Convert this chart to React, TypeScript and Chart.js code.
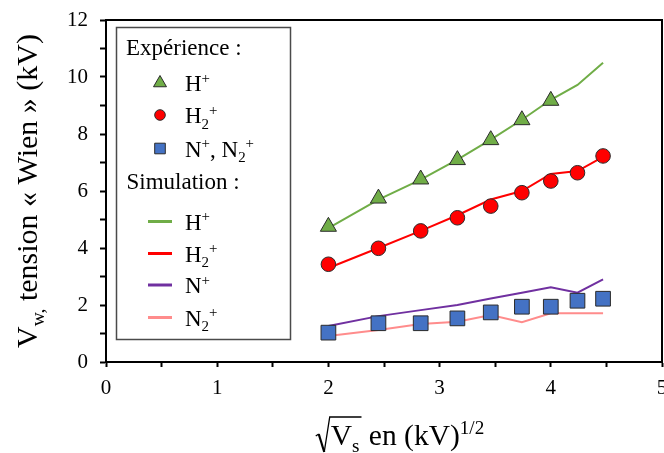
import React, { useEffect, useRef } from 'react';
import { Chart, registerables } from 'chart.js';

Chart.register(...registerables);

// ---- data ----
const xValues = [2, 2.45, 2.83, 3.16, 3.46, 3.74, 4, 4.24, 4.47];
const expHplus = [4.75, 5.74, 6.41, 7.09, 7.79, 8.49, 9.17];
const expH2plus = [3.43, 3.99, 4.6, 5.06, 5.47, 5.94, 6.35, 6.64, 7.23];
const expNplus = [1.03, 1.36, 1.36, 1.53, 1.74, 1.94, 1.94, 2.15, 2.22];
const simHplus = [4.7, 5.7, 6.4, 7.1, 7.8, 8.5, 9.2, 9.72, 10.5];
const simH2plus = [3.3, 4.0, 4.6, 5.15, 5.7, 6.0, 6.6, 6.7, 7.2];
const simNplus = [1.26, 1.61, 1.82, 2.0, 2.23, 2.43, 2.62, 2.43, 2.9];
const simN2plus = [0.91, 1.12, 1.33, 1.41, 1.65, 1.4, 1.71, 1.71, 1.71];

const xMin = 0;
const xMax = 5;
const yMin = 0;
const yMax = 12;
const xTickLabels = [0, 1, 2, 3, 4, 5];

const legendHeaderExp = 'Expérience :';
const legendHeaderSim = 'Simulation :';

type Seg = { t: string; m?: 'sub' | 'sup' };
const labelH: Seg[] = [{ t: 'H' }, { t: '+', m: 'sup' }];
const labelH2: Seg[] = [{ t: 'H' }, { t: '2', m: 'sub' }, { t: '+', m: 'sup' }];
const labelNN2: Seg[] = [{ t: 'N' }, { t: '+', m: 'sup' }, { t: ', N' }, { t: '2', m: 'sub' }, { t: '+', m: 'sup' }];
const labelN: Seg[] = [{ t: 'N' }, { t: '+', m: 'sup' }];
const labelN2: Seg[] = [{ t: 'N' }, { t: '2', m: 'sub' }, { t: '+', m: 'sup' }];

const yTitle: Seg[] = [{ t: 'V' }, { t: 'w,', m: 'sub' }, { t: ' tension « Wien » (kV)' }];
const xTitleAfterRoot: Seg[] = [{ t: ' en (kV)' }, { t: '1/2', m: 'sup' }];
const xTitleRoot: Seg[] = [{ t: 'V' }, { t: 's', m: 'sub' }];

// ---- styles ----
const SERIF = '"Liberation Serif", "Times New Roman", serif';
const GREEN = '#70AD47';
const RED = '#FF0000';
const BLUE = '#4472C4';
const PURPLE = '#7030A0';
const PINK = '#FF8C8C';
const EDGE = '#2B2B2B';

function segWidth(ctx: CanvasRenderingContext2D, segs: Seg[], size: number) {
  let w = 0;
  for (const s of segs) {
    const fs = s.m ? size * 0.65 : size;
    ctx.font = `${fs}px ${SERIF}`;
    w += ctx.measureText(s.t).width;
  }
  return w;
}

function drawRich(ctx: CanvasRenderingContext2D, segs: Seg[], x: number, y: number, size: number) {
  let cx = x;
  ctx.textBaseline = 'alphabetic';
  ctx.textAlign = 'left';
  for (const s of segs) {
    const fs = s.m ? size * 0.65 : size;
    ctx.font = `${fs}px ${SERIF}`;
    const dy = s.m === 'sub' ? size * 0.24 : s.m === 'sup' ? -size * 0.36 : 0;
    ctx.fillText(s.t, cx, y + dy);
    cx += ctx.measureText(s.t).width;
  }
  return cx - x;
}

function marker(ctx: CanvasRenderingContext2D, shape: string, x: number, y: number, r: number, fill: string) {
  ctx.save();
  ctx.beginPath();
  if (shape === 'triangle') {
    const w = r * Math.sin((2 * Math.PI) / 3);
    ctx.moveTo(x, y - r);
    ctx.lineTo(x + w, y + r / 2);
    ctx.lineTo(x - w, y + r / 2);
    ctx.closePath();
  } else if (shape === 'circle') {
    ctx.arc(x, y, r, 0, Math.PI * 2);
  } else {
    ctx.rect(x - r, y - r, 2 * r, 2 * r);
  }
  ctx.fillStyle = fill;
  ctx.fill();
  ctx.strokeStyle = EDGE;
  ctx.lineWidth = 1;
  ctx.stroke();
  ctx.restore();
}

const decorPlugin = {
  id: 'decor',
  afterDraw(chart: any) {
    const ctx: CanvasRenderingContext2D = chart.ctx;
    const a = chart.chartArea;
    ctx.save();
    // frame top & right
    ctx.strokeStyle = '#000';
    ctx.lineWidth = 2;
    ctx.beginPath();
    ctx.moveTo(a.left, a.top);
    ctx.lineTo(a.right, a.top);
    ctx.lineTo(a.right, a.bottom);
    ctx.stroke();

    // x tick labels (drawn from the x scale)
    const xs = chart.scales.x;
    ctx.fillStyle = '#000';
    ctx.font = `21px ${SERIF}`;
    ctx.textAlign = 'center';
    ctx.textBaseline = 'alphabetic';
    for (const v of xTickLabels) {
      ctx.fillText(String(v), xs.getPixelForValue(v), 394);
    }

    // legend box
    ctx.strokeStyle = '#4A4A4A';
    ctx.lineWidth = 1.5;
    ctx.fillStyle = '#fff';
    ctx.fillRect(116, 27, 175, 313);
    ctx.strokeRect(116.5, 27.5, 174, 312);

    ctx.fillStyle = '#000';
    const LS = 23;
    drawRich(ctx, [{ t: legendHeaderExp }], 126, 55, LS);
    drawRich(ctx, [{ t: legendHeaderSim }], 126.5, 189, LS);

    const expItems: [string, string, Seg[], number][] = [
      ['triangle', GREEN, labelH, 83],
      ['circle', RED, labelH2, 115],
      ['rect', BLUE, labelNN2, 148.5],
    ];
    for (const [shape, col, segs, y] of expItems) {
      const r = shape === 'triangle' ? 7.5 : 5.3;
      marker(ctx, shape, 160, y, r, col);
      ctx.fillStyle = '#000';
      drawRich(ctx, segs, 185, y + 8, LS);
    }
    const simItems: [string, Seg[], number][] = [
      [GREEN, labelH, 221.5],
      [RED, labelH2, 253.5],
      [PURPLE, labelN, 285],
      [PINK, labelN2, 317.5],
    ];
    for (const [col, segs, y] of simItems) {
      ctx.strokeStyle = col;
      ctx.lineWidth = 3;
      ctx.beginPath();
      ctx.moveTo(148, y);
      ctx.lineTo(172, y);
      ctx.stroke();
      ctx.fillStyle = '#000';
      drawRich(ctx, segs, 185, y + 8, LS);
    }

    // y title
    const TY = 30;
    ctx.save();
    ctx.translate(37, (a.top + a.bottom) / 2);
    ctx.rotate(-Math.PI / 2);
    const yw = segWidth(ctx, yTitle, TY);
    ctx.fillStyle = '#000';
    drawRich(ctx, yTitle, -yw / 2, 0, TY);
    ctx.restore();

    // x title with square root
    const TS = 29.5;
    const rootW = segWidth(ctx, xTitleRoot, TS);
    const restW = segWidth(ctx, xTitleAfterRoot, TS);
    const radW = 15;
    const total = radW + rootW + 2 + restW;
    const x0 = 400 - total / 2;
    const by = 445;
    ctx.strokeStyle = '#000';
    ctx.lineWidth = 1.4;
    ctx.beginPath();
    ctx.moveTo(x0, by - 9);
    ctx.lineTo(x0 + 3, by - 11);
    ctx.stroke();
    ctx.lineWidth = 2.2;
    ctx.beginPath();
    ctx.moveTo(x0 + 3, by - 11);
    ctx.lineTo(x0 + 8.5, by + 7);
    ctx.stroke();
    ctx.lineWidth = 1.3;
    ctx.beginPath();
    ctx.moveTo(x0 + 8.5, by + 7);
    ctx.lineTo(x0 + 14, by - 28);
    ctx.lineTo(x0 + radW + rootW + 2, by - 28);
    ctx.stroke();
    ctx.fillStyle = '#000';
    drawRich(ctx, xTitleRoot, x0 + radW, by, TS);
    drawRich(ctx, xTitleAfterRoot, x0 + radW + rootW + 2, by, TS);

    ctx.restore();
  },
};

const pts = (ys: number[]) => ys.map((y, i) => ({ x: xValues[i], y }));

export default function App() {
  const ref = useRef<HTMLCanvasElement>(null);
  useEffect(() => {
    document.body.style.margin = '0';
    const simLine = (data: number[], color: string) => ({
      data: pts(data),
      borderColor: color,
      borderWidth: 2,
      pointRadius: 0,
      showLine: true,
      tension: 0,
      order: 2,
    });
    const expPts = (data: number[], style: string, r: number, color: string) => ({
      data: pts(data),
      showLine: false,
      pointStyle: style,
      pointRadius: r,
      pointBackgroundColor: color,
      pointBorderColor: EDGE,
      pointBorderWidth: 1,
      borderColor: EDGE,
      backgroundColor: color,
      order: 1,
    });
    const chart = new Chart(ref.current as HTMLCanvasElement, {
      type: 'line',
      data: {
        datasets: [
          simLine(simHplus, GREEN),
          simLine(simH2plus, RED),
          simLine(simNplus, PURPLE),
          simLine(simN2plus, PINK),
          expPts(expNplus, 'rect', 10.4, BLUE),
          expPts(expH2plus, 'circle', 7.3, RED),
          expPts(expHplus, 'triangle', 9.3, GREEN),
        ] as any,
      },
      options: {
        responsive: false,
        devicePixelRatio: 1,
        animation: false,
        layout: { autoPadding: false, padding: { top: 20, right: 2, left: 0, bottom: 0 } },
        plugins: { legend: { display: false }, tooltip: { enabled: false } },
        scales: {
          x: {
            type: 'linear',
            min: xMin,
            max: xMax,
            afterFit: (s: any) => {
              s.height = 91;
              s.paddingLeft = 0;
              s.paddingRight = 0;
            },
            ticks: {
              display: false,
              stepSize: 0.5,
              autoSkip: false,
              maxRotation: 0,
            },
            grid: {
              drawOnChartArea: false,
              drawTicks: true,
              tickLength: 5,
              tickColor: '#000',
              tickWidth: 2,
              color: '#000',
            },
            border: { display: true, color: '#000', width: 2 },
          },
          y: {
            type: 'linear',
            min: yMin,
            max: yMax,
            afterFit: (s: any) => {
              s.width = 106;
              s.paddingTop = 0;
              s.paddingBottom = 0;
            },
            ticks: {
              stepSize: 1,
              padding: 12,
              color: '#000',
              font: { family: SERIF, size: 21 },
              callback: (v: any) => (Number(v) % 2 === 0 ? String(v) : ''),
            },
            grid: {
              drawOnChartArea: false,
              drawTicks: true,
              tickLength: 6,
              tickColor: '#000',
              tickWidth: 2,
              color: '#000',
            },
            border: { display: true, color: '#000', width: 2 },
          },
        },
      } as any,
      plugins: [decorPlugin],
    });
    return () => chart.destroy();
  }, []);
  return (
    <div style={{ position: 'absolute', left: 0, top: 0, width: 664, height: 453, background: '#fff' }}>
      <canvas ref={ref} width={664} height={453} style={{ display: 'block', width: 664, height: 453 }} />
    </div>
  );
}
